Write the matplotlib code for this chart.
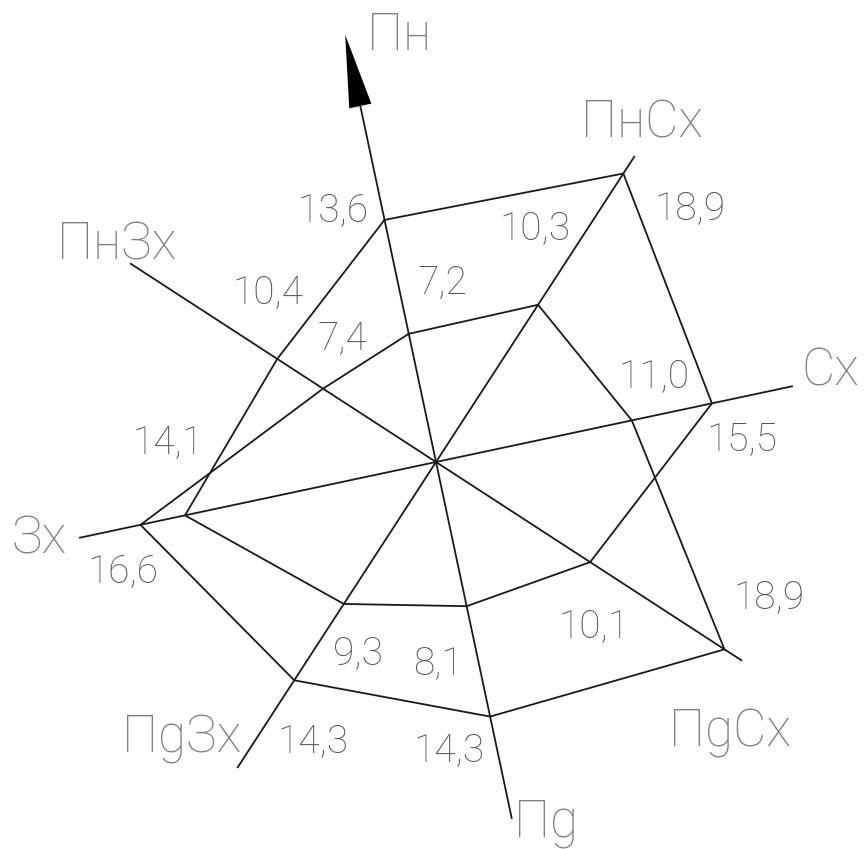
import numpy as np
import matplotlib.pyplot as plt

plt.rcParams['font.family'] = ['Roboto', 'DejaVu Sans']

# wind directions, clockwise from north
directions = ['Пн', 'ПнСх', 'Сх', 'ПgСх', 'Пg', 'ПgЗх', 'Зх', 'ПнЗх']
rose_a = [13.6, 18.9, 15.5, 10.1, 8.1, 9.3, 14.1, 10.4]
rose_b = [7.2, 10.3, 11.0, 18.9, 14.3, 14.3, 16.6, 7.4]

ROT = -12          # the whole rose is turned a bit to the left
S = 18.2           # pixels per unit
R_AX = 20          # length of the direction lines
ang = np.deg2rad(ROT + 45 * np.arange(8))

fig = plt.figure(figsize=(8.64, 8.49), dpi=100)
ax = fig.add_axes([0, 0, 1, 1])
ax.set_xlim(-436 / S, 428 / S)
ax.set_ylim(-387 / S, 462 / S)
ax.axis('off')

lc = '#1a1a1a'
for a in ang[:4]:
    ax.plot([R_AX * np.sin(a), -R_AX * np.sin(a)],
            [R_AX * np.cos(a), -R_AX * np.cos(a)], color=lc, lw=1.3)

# north arrow head
a0 = ang[0]
tip = 24 * np.array([np.sin(a0), np.cos(a0)])
base = R_AX * np.array([np.sin(a0), np.cos(a0)])
perp = 0.62 * np.array([np.cos(a0), -np.sin(a0)])
tri = np.array([tip, base + perp, base - perp])
ax.fill(tri[:, 0], tri[:, 1], color='black', lw=0)

# the two roses
for vals in (rose_a, rose_b):
    v = np.array(vals + vals[:1])
    a = np.append(ang, ang[0])
    ax.plot(v * np.sin(a), v * np.cos(a), color=lc, lw=1.3)

# value labels: offsets in pixels from each vertex (x right, y up)
off_a = [(-52, -1), (67, -46), (30, -47), (4, -75), (-29, -68), (14, -60), (-17, 62), (-9, 56)]
off_b = [(34, 41), (-3, 66), (22, 33), (45, 41), (-41, -45), (19, -72), (-18, -57), (19, 40)]
for vals, offs in ((rose_a, off_a), (rose_b, off_b)):
    for v, a, o in zip(vals, ang, offs):
        ax.annotate(f'{v:.1f}'.replace('.', ','), (v * np.sin(a), v * np.cos(a)),
                    xytext=o, textcoords='offset pixels', ha='center', va='baseline',
                    fontsize=28, fontweight='light', color='#555555')

# direction labels (centre x, baseline y in pixels from top-left)
name_pos = [(399, 50), (642, 137), (830, 385), (730, 747),
            (546, 837), (182, 752), (39, 553), (117, 259)]
for name, (px, py) in zip(directions, name_pos):
    ax.text((px - 436) / S, (462 - py) / S, name, ha='center', va='baseline',
            fontsize=37, fontweight='light', color='#808080')

fig.savefig('out.png', dpi=100)
